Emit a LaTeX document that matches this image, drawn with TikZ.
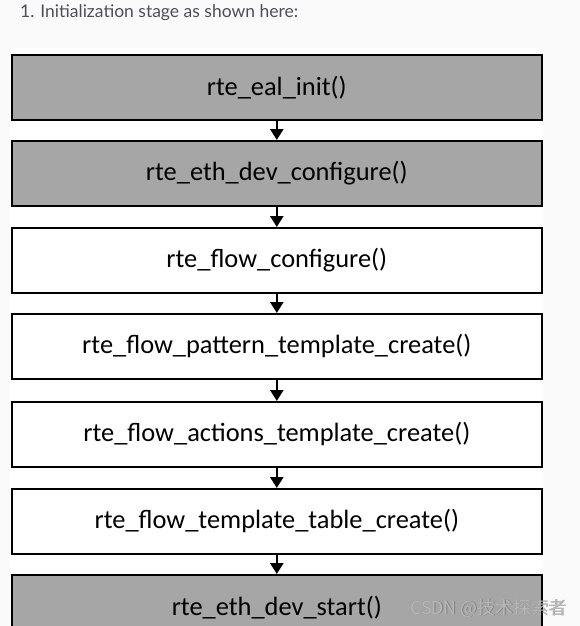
\documentclass[tikz,border=0pt]{standalone}
\usepackage{fontspec}
\setmainfont{Carlito}
\newfontfamily\latofont{Lato}
\newfontfamily\cjkfont{Noto Sans CJK SC}
\usetikzlibrary{arrows.meta}
\definecolor{pagebg}{HTML}{FAFAFA}
\definecolor{boxgray}{HTML}{A6A6A6}
\definecolor{headtext}{HTML}{4A4F5A}
\definecolor{wmark}{HTML}{B8B8B8}
\begin{document}
\begin{tikzpicture}[x=1pt,y=-1pt,
  stepbox/.style={draw=black,line width=1.6pt,minimum width=530pt,minimum height=65pt,inner sep=0pt,font=\fontsize{26.4}{30}\selectfont,anchor=north west,text=black},
  grayfill/.style={fill=boxgray},
  whitefill/.style={fill=white},
  flowarrow/.style={line width=2.6pt,-{Triangle[width=13pt,length=11pt]}}]
\useasboundingbox (0,0) rectangle (580,626);
\fill[pagebg] (0,0) rectangle (580,626);
\fill[white] (10,48) rectangle (543,626);
\node[anchor=base west,text=headtext,font=\latofont\fontsize{17.5}{20}\selectfont,inner sep=0pt] (head) at (20,18) {1. Initialization stage as shown here:};
\begin{scope}
\clip (0,0) rectangle (580,626);
\node[stepbox,grayfill] (b1) at (11,54) {rte\_eal\_init()};
\node[stepbox,grayfill] (b2) at (11,140) {rte\_eth\_dev\_configure()};
\node[stepbox,whitefill] (b3) at (11,227) {rte\_flow\_configure()};
\node[stepbox,whitefill] (b4) at (11,313) {rte\_flow\_pattern\_template\_create()};
\node[stepbox,whitefill] (b5) at (11,401) {rte\_flow\_actions\_template\_create()};
\node[stepbox,whitefill] (b6) at (11,488) {rte\_flow\_template\_table\_create()};
\node[stepbox,grayfill] (b7) at (11,574) {rte\_eth\_dev\_start()};
\end{scope}
\draw[flowarrow] (b1.south) -- (b2.north);
\draw[flowarrow] (b2.south) -- (b3.north);
\draw[flowarrow] (b3.south) -- (b4.north);
\draw[flowarrow] (b4.south) -- (b5.north);
\draw[flowarrow] (b5.south) -- (b6.north);
\draw[flowarrow] (b6.south) -- (b7.north);
\node[anchor=base west,text=gray!70!black,font=\cjkfont\fontsize{17.8}{20}\selectfont,inner sep=0pt,opacity=0.5] (wmshadow) at (410.6,614.6) {CSDN @技术探索者};
\node[anchor=base west,text=wmark,font=\cjkfont\fontsize{17.8}{20}\selectfont,inner sep=0pt] (wm) at (410,614) {CSDN @技术探索者};
\end{tikzpicture}
\end{document}
